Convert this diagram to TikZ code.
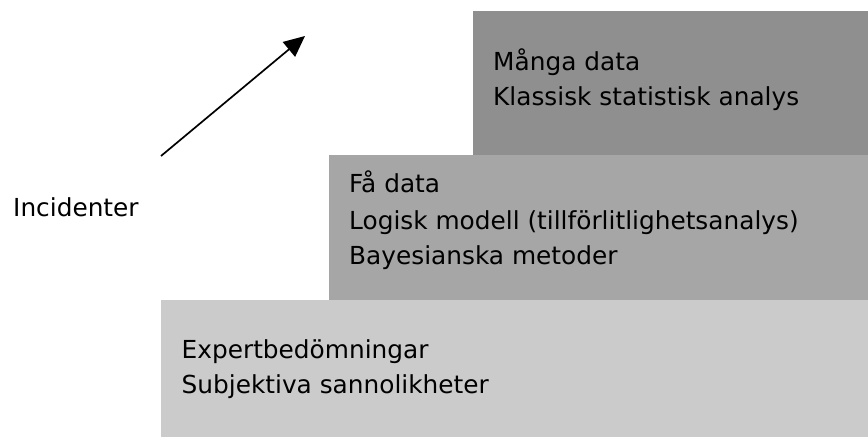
\documentclass[tikz,border=0pt]{standalone}
\usepackage{fontspec}
\setmainfont{DejaVu Sans}
\usetikzlibrary{arrows.meta}
\definecolor{gtop}{HTML}{8F8F8F}
\definecolor{gmid}{HTML}{A6A6A6}
\definecolor{gbot}{HTML}{CBCBCB}
\tikzset{
  txt/.style={anchor=base west, inner sep=0pt, font=\fontsize{24.8pt}{30pt}\selectfont, text=black},
  arr/.style={line width=1.7pt, -{Triangle[length=21pt,width=19pt]}}
}
\begin{document}
\begin{tikzpicture}[x=1pt,y=-1pt]
\useasboundingbox (0,0) rectangle (868,438);
\fill[gtop] (473,11) rectangle (868,155);
\fill[gmid] (329,155) rectangle (868,300);
\fill[gbot] (161,300) rectangle (868,437);
\node[txt] (t1) at (493,71) {Många data};
\node[txt] (t2) at (493,106) {Klassisk statistisk analys};
\node[txt] (m1) at (349,193) {Få data};
\node[txt] (m2) at (349,229.5) {Logisk modell (tillförlitlighetsanalys)};
\node[txt] (m3) at (349,265) {Bayesianska metoder};
\node[txt] (b1) at (181.5,358.5) {Expertbedömningar};
\node[txt] (b2) at (181.5,394) {Subjektiva sannolikheter};
\node[txt] (inc) at (13,216.5) {Incidenter};
\coordinate (a0) at (161,156);
\coordinate (a1) at (305,36);
\draw[arr] (a0) -- (a1);
\end{tikzpicture}
\end{document}
